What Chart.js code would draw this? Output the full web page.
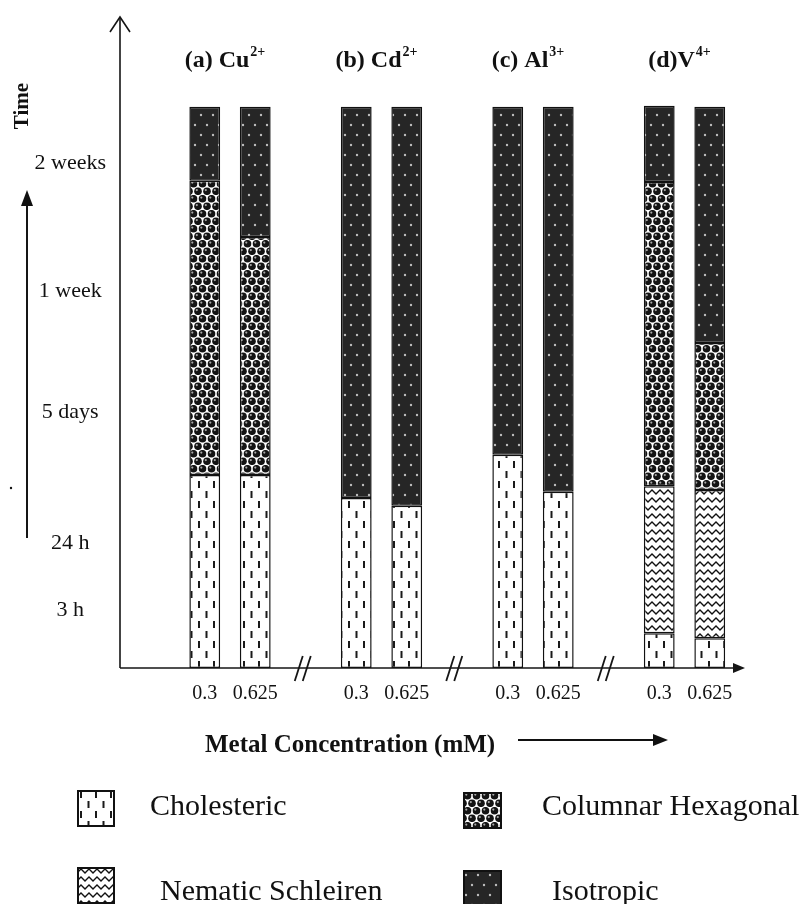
<!DOCTYPE html>
<html><head><meta charset="utf-8">
<script src="https://cdn.jsdelivr.net/npm/chart.js@4.4.1/dist/chart.umd.min.js"></script>
<style>
html,body{margin:0;padding:0;background:#fff;}
#wrap{position:relative;width:802px;height:904px;overflow:hidden;background:#fff;}
#c{position:absolute;left:0;top:0;}
.t{position:absolute;font-family:'Liberation Serif','Times New Roman',serif;color:#111;line-height:1;white-space:nowrap;}
.sw{position:absolute;}
</style></head><body>
<div id="wrap">
<canvas id="c" width="802" height="904"></canvas>
<div class="t" style="left:205px;top:731px;font-size:25px;font-weight:bold;">Metal Concentration (mM)</div>
<svg style="position:absolute;left:510px;top:730px" width="170" height="20"><line x1="8" y1="10" x2="146" y2="10" stroke="#111" stroke-width="2"/><polygon points="143,4 158,10 143,16" fill="#111"/></svg>
<canvas class="sw" id="sw0" width="38" height="37" style="left:77px;top:790px"></canvas>
<div class="t" style="left:150px;top:790px;font-size:30px;">Cholesteric</div>
<canvas class="sw" id="sw2" width="39" height="37" style="left:463px;top:792px"></canvas>
<div class="t" style="left:542px;top:790px;font-size:30px;">Columnar Hexagonal</div>
<canvas class="sw" id="sw1" width="38" height="37" style="left:77px;top:867px"></canvas>
<div class="t" style="left:160px;top:875px;font-size:30px;">Nematic Schleiren</div>
<canvas class="sw" id="sw3" width="39" height="37" style="left:463px;top:870px"></canvas>
<div class="t" style="left:552px;top:875px;font-size:30px;">Isotropic</div>
</div>
<script>
// ---- data ----
const categories = ['', '0.3', '0.625', '', '0.3', '0.625', '', '0.3', '0.625', '', '0.3', '0.625'];
const groupLabels = [['(a) Cu', '2+'], ['(b) Cd', '2+'], ['(c) Al', '3+'], ['(d)V', '4+']];
const phaseNames = ['Cholesteric', 'Nematic Schleiren', 'Columnar Hexagonal', 'Isotropic'];
const cholesteric = [null, 34.4, 34.4, null, 30.3, 28.9, null, 38.0, 31.4, null, 6.2, 5.3];
const nematic     = [null, null, null, null, null, null, null, null, null, null, 26.2, 26.4];
const columnarHex = [null, 52.4, 42.4, null, null, null, null, null, null, null, 54.2, 26.2];
const isotropic   = [null, 13.2, 23.2, null, 69.7, 71.1, null, 62.0, 68.6, null, 13.6, 42.1];
const timeTickValues = [10.3, 22.2, 45.5, 67.2, 89.9];
const timeTickLabels = ['3 h', '24 h', '5 days', '1 week', '2 weeks'];

// ---- patterns ----
function makeTile(w, h, draw) {
  const c = document.createElement('canvas'); c.width = w; c.height = h;
  draw(c.getContext('2d'), w, h); return c;
}
function ball(g, x, y) {
  g.fillStyle = '#141414'; g.beginPath(); g.arc(x, y, 3.8, 0, Math.PI * 2); g.fill();
  g.fillStyle = '#a8a8a8'; g.beginPath(); g.arc(x - 1.2, y - 1.2, 1.1, 0, Math.PI * 2); g.fill();
}
const tiles = [
  makeTile(15, 20, g => { g.fillStyle = '#fff'; g.fillRect(0, 0, 15, 20); g.fillStyle = '#1a1a1a';
    g.fillRect(3, 1, 2, 7); g.fillRect(10.5, 11, 2, 7); }),
  makeTile(8, 8, g => { g.fillStyle = '#fff'; g.fillRect(0, 0, 8, 8); g.strokeStyle = '#111'; g.lineWidth = 1.3;
    g.beginPath(); g.moveTo(-4, 2); g.lineTo(0, 6); g.lineTo(4, 2); g.lineTo(8, 6); g.lineTo(12, 2); g.stroke(); }),
  makeTile(9, 15, g => { g.fillStyle = '#fff'; g.fillRect(0, 0, 9, 15);
    ball(g, 4.5, 3.75); ball(g, 0, 11.25); ball(g, 9, 11.25); ball(g, 4.5, 18.75); ball(g, 0, -3.75); ball(g, 9, -3.75); }),
  makeTile(12, 20, g => { g.fillStyle = '#262626'; g.fillRect(0, 0, 12, 20); g.fillStyle = '#bdbdbd';
    g.beginPath(); g.arc(3, 5, 1.2, 0, Math.PI * 2); g.fill();
    g.beginPath(); g.arc(9, 15, 1.2, 0, Math.PI * 2); g.fill(); })
];
const canvas = document.getElementById('c');
const ctx0 = canvas.getContext('2d');
const patterns = tiles.map(t => ctx0.createPattern(t, 'repeat'));

// legend swatches
[0, 1, 2, 3].forEach(i => {
  const el = document.getElementById('sw' + i); const g = el.getContext('2d');
  g.fillStyle = g.createPattern(tiles[i], 'repeat'); g.fillRect(0, 0, el.width, el.height);
  g.strokeStyle = '#111'; g.lineWidth = 2; g.strokeRect(1, 1, el.width - 2, el.height - 2);
});

const serif = "'Liberation Serif', 'Times New Roman', serif";

const decor = {
  id: 'decor',
  afterDraw(chart) {
    const { ctx, chartArea: a, scales: { x } } = chart;
    const axisX = a.left - 9;
    ctx.save();
    ctx.strokeStyle = '#151515'; ctx.fillStyle = '#151515'; ctx.lineWidth = 1.6;
    // y axis with open arrow
    ctx.beginPath(); ctx.moveTo(axisX, a.bottom); ctx.lineTo(axisX, a.top); ctx.stroke();
    ctx.beginPath(); ctx.moveTo(axisX - 10, a.top + 15); ctx.lineTo(axisX, a.top); ctx.lineTo(axisX + 10, a.top + 15); ctx.stroke();
    // x axis with filled arrow
    const xEnd = a.right + 10;
    ctx.beginPath(); ctx.moveTo(axisX, a.bottom); ctx.lineTo(xEnd - 8, a.bottom); ctx.stroke();
    ctx.beginPath(); ctx.moveTo(xEnd, a.bottom); ctx.lineTo(xEnd - 12, a.bottom - 5); ctx.lineTo(xEnd - 12, a.bottom + 5); ctx.closePath(); ctx.fill();
    // axis breaks
    categories.forEach((c, i) => {
      if (i > 0 && c === '') {
        const px = x.getPixelForValue(i) - 3;
        ctx.lineWidth = 1.8;
        [-4, 4].forEach(d => {
          ctx.beginPath(); ctx.moveTo(px + d - 4, a.bottom + 13); ctx.lineTo(px + d + 4, a.bottom - 12); ctx.stroke();
        });
      }
    });
    // group labels
    const groups = []; let run = [];
    categories.forEach((c, i) => { if (c !== '') run.push(i); else if (run.length) { groups.push(run); run = []; } });
    if (run.length) groups.push(run);
    ctx.fillStyle = '#111'; ctx.textBaseline = 'alphabetic'; ctx.textAlign = 'left';
    groups.forEach((g, k) => {
      const cx = (x.getPixelForValue(g[0]) + x.getPixelForValue(g[g.length - 1])) / 2 - 5;
      const [main, sup] = groupLabels[k];
      ctx.font = 'bold 24px ' + serif; const w1 = ctx.measureText(main).width;
      ctx.font = 'bold 14px ' + serif; const w2 = ctx.measureText(sup).width;
      const sx = cx - (w1 + w2 + 1) / 2;
      ctx.font = 'bold 24px ' + serif; ctx.fillText(main, sx, 67);
      ctx.font = 'bold 14px ' + serif; ctx.fillText(sup, sx + w1 + 1, 56);
    });
    // "Time" title
    ctx.save(); ctx.translate(23, 106); ctx.rotate(-Math.PI / 2);
    ctx.font = 'bold 21px ' + serif; ctx.textAlign = 'center'; ctx.textBaseline = 'middle';
    ctx.fillText('Time', 0, 0); ctx.restore();
    // time arrow
    ctx.lineWidth = 2; ctx.beginPath(); ctx.moveTo(27, 538); ctx.lineTo(27, 200); ctx.stroke();
    ctx.beginPath(); ctx.moveTo(27, 190); ctx.lineTo(21, 206); ctx.lineTo(33, 206); ctx.closePath(); ctx.fill();
    ctx.beginPath(); ctx.arc(11, 488, 1.2, 0, Math.PI * 2); ctx.fill();
    ctx.restore();
  }
};

const mk = (label, data, i) => ({
  label, data, backgroundColor: patterns[i], borderColor: '#111', borderWidth: 1.5,
  borderSkipped: false, barPercentage: 0.61, categoryPercentage: 1
});

new Chart(canvas, {
  type: 'bar',
  data: {
    labels: categories,
    datasets: [
      mk(phaseNames[0], cholesteric, 0),
      mk(phaseNames[1], nematic, 1),
      mk(phaseNames[2], columnarHex, 2),
      mk(phaseNames[3], isotropic, 3)
    ]
  },
  options: {
    responsive: false, animation: false, devicePixelRatio: 1,
    layout: { padding: { top: 17, right: 67, bottom: 191, left: 0 } },
    plugins: { legend: { display: false }, tooltip: { enabled: false } },
    scales: {
      x: {
        stacked: true,
        grid: { display: false, drawTicks: false }, border: { display: false },
        ticks: { padding: 14, autoSkip: false, maxRotation: 0, color: '#111', font: { family: serif, size: 20 } },
        afterFit: s => { s.height = 45; s.paddingLeft = 0; s.paddingRight = 0; }
      },
      y: {
        stacked: true, min: 0, max: 116,
        grid: { display: false, drawTicks: false }, border: { display: false },
        afterBuildTicks: s => { s.ticks = timeTickValues.map(v => ({ value: v })); },
        ticks: {
          crossAlign: 'center', padding: 23, color: '#111', font: { family: serif, size: 22 },
          callback: v => { const i = timeTickValues.indexOf(v); return i >= 0 ? timeTickLabels[i] : ''; }
        },
        afterFit: s => { s.width = 129; s.paddingTop = 0; s.paddingBottom = 0; }
      }
    }
  },
  plugins: [decor]
});
</script>
</body></html>
